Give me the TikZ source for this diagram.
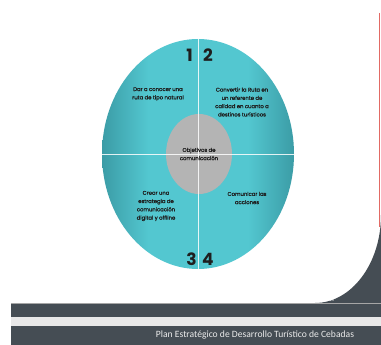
\documentclass[tikz,border=0pt]{standalone}
\usepackage{fontspec}
\setmainfont{Poppins}
\newfontfamily\quadfont[FakeBold=1.3]{Poppins}
\newfontfamily\footfont{Carlito}
\usepackage{xcolor}
\usepackage{tikz}
\usetikzlibrary{shapes.geometric}

\definecolor{tealA}{HTML}{53C7D0}
\definecolor{tealB}{HTML}{3B9CA6}
\definecolor{slate}{HTML}{454D54}
\definecolor{coregray}{HTML}{B4B4B4}
\definecolor{inkdark}{HTML}{1E1E1E}
\definecolor{rulered}{HTML}{E26A64}
\pgfdeclarehorizontalshading{tealband}{100bp}{color(0bp)=(tealB); color(25bp)=(tealB); color(37bp)=(tealA); color(63bp)=(tealA); color(75bp)=(tealB); color(100bp)=(tealB)}

\tikzset{
 quarter/.style={font=\quadfont\fontsize{5.3}{8.3}\selectfont, text=inkdark, align=center, inner sep=0pt},
 num/.style={font=\fontsize{17}{17}\selectfont\bfseries, text=inkdark, inner sep=0pt},
 split/.style={white, opacity=.85, line width=.6pt}
}

\begin{document}
\begin{tikzpicture}[x=1pt,y=-1pt]
\useasboundingbox (0,0) rectangle (381,345);
% page
\fill[white] (0,0) rectangle (381,345);
\fill[slate] (381,215) arc[start angle=0,end angle=-90,x radius=66pt,y radius=88pt] -- (381,303) -- cycle;
\draw[rulered, line width=.8pt] (379.5,13) -- (379.5,227);
\fill[slate] (11,303) rectangle (381,317);
\draw[gray!70, line width=.6pt] (11,303.3) -- (381,303.3);
\fill[black!9] (11,317) rectangle (381,326);
\fill[slate] (11,326) rectangle (381,345);
\node[text=black!8, font=\footfont\fontsize{9.6}{11}\selectfont] (foot) at (255,335) {Plan Estratégico de Desarrollo Turístico de Cebadas};
\node[text=white, font=\fontsize{3.5}{4}\selectfont] (page) at (332,300) {25};

% diagram
\node[ellipse, minimum width=192pt, minimum height=230pt, inner sep=0pt, shading=tealband] (outer) at (198,154) {};
\node[ellipse, minimum width=66pt, minimum height=80pt, inner sep=0pt, fill=coregray] (core) at (199,154) {};
\draw[split] (outer.north) -- (outer.south);
\draw[split] (outer.west) -- (outer.east);

\node[quarter] (goal) at (199,154) {Objetivos de\\comunicación};
\node[quarter] (q1) at (158,94) {Dar a conocer una\\ruta de tipo natural};
\node[quarter] (q2) at (242,102) {Convertir la Ruta en\\un referente de\\calidad en cuanto a\\destinos turísticos};
\node[quarter] (q3) at (156,206) {Crear una\\estrategia de\\comunicación\\digital y offline};
\node[quarter] (q4) at (247,198) {Comunicar las\\acciones};

\node[num] (n1) at (189.5,55) {1};
\node[num] (n2) at (208,55) {2};
\node[num] (n3) at (191.5,259) {3};
\node[num] (n4) at (208,259) {4};
\end{tikzpicture}
\end{document}
